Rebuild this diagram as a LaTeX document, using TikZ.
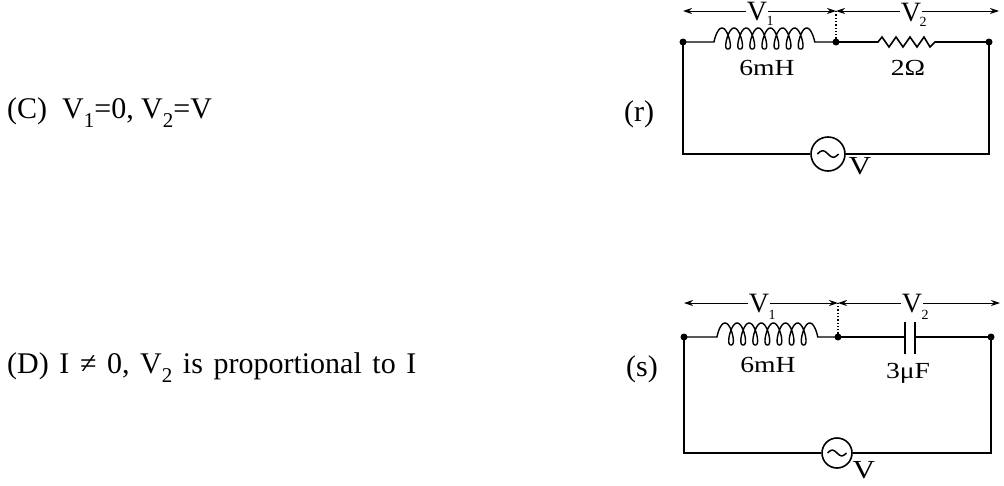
\documentclass[tikz,border=0pt]{standalone}
\usepackage{fontspec}
\setmainfont{Liberation Serif}
\usetikzlibrary{arrows.meta}
\newcommand\mysub[1]{\raisebox{-0.33em}{\fontsize{21}{21}\selectfont #1}}
\begin{document}
\begin{tikzpicture}[x=1pt,y=-1pt,
 wire/.style={line width=1.6pt},
 coil/.style={line width=1.4pt},
 dot/.style={circle,fill=black,inner sep=0pt,minimum size=7pt},
 dimline/.style={line width=1pt,{Stealth[length=9pt,width=6pt]}-{Stealth[length=9pt,width=6pt]}},
 src/.style={circle,draw,line width=1.6pt,inner sep=0pt},
 lbl/.style={font=\fontsize{23}{23}\selectfont,inner sep=0pt,transform shape,xscale=1.2},
 vlbl/.style={fill=white,inner sep=1pt,font=\fontsize{28}{28}\selectfont},
 slbl/.style={inner sep=0pt,font=\fontsize{14}{14}\selectfont},
 txt/.style={anchor=base west,inner sep=0pt,font=\fontsize{30}{30}\selectfont}]
\useasboundingbox (0,0) rectangle (1004,485);
\fill[white] (0,0) rectangle (1004,485);
% ---- texts
\node[txt] (tc) at (7,118) {(C)\ \ V\mysub{1}=0, V\mysub{2}=V};
\node[txt] (tr) at (624,121) {(r)};
\node[txt] (td) at (7,373) {\spaceskip=10.6pt\relax (D) I ≠ 0, V\mysub{2} is proportional to I};
\node[txt] (ts) at (626,376) {(s)};
% ---- circuit r
\node[dot] (a1) at (683,42) {};
\node[dot] (b1) at (836,42) {};
\node[dot] (c1) at (989,42) {};
\coordinate (d1) at (683,154);
\coordinate (e1) at (989,154);
\node[src,minimum size=34pt] (s1) at (828,154) {};
\draw[wire] (a1.center) -- (d1) -- (s1.west);
\draw[wire] (s1.east) -- (e1) -- (c1.center);
\draw[line width=1.5pt] plot[domain=-180:180,samples=40,smooth] ({828+\x/17},{154+3.2*sin(\x)});
\draw[coil] (a1.center) -- plot[domain=-90:2610,samples=300,smooth] ({722+12.1*(\x/360)+5*sin(\x)},{42-10.5*cos(\x)-3.5*cos(\x)*cos(\x)}) -- (b1.center);
\draw[wire] (b1.center) -- (878,42) -- (882,37) -- (889,47) -- (896,37) -- (903,47) -- (910,37) -- (917,47) -- (924,37) -- (930,47) -- (935,42) -- (c1.center);
\coordinate (p1) at (683,11);
\coordinate (q1) at (836,11);
\coordinate (r1) at (999,11);
\draw[dotted,line width=1.3pt] (b1.center) -- (q1);
\draw[dimline] (p1) -- (q1);
\draw[dimline] (q1) -- (r1);
\node[vlbl] (v1) at (757,12) {V};
\node[slbl] (n1) at (770,21) {1};
\node[vlbl] (v2) at (911,13) {V};
\node[slbl] (n2) at (923,22) {2};
\node[lbl] (l1) at (767,68) {6mH};
\node[lbl] (l2) at (908,68) {2Ω};
\node[lbl,xscale=1] (vs1) at (860,166) {\fontsize{26}{26}\selectfont V};
% ---- circuit s
\node[dot] (a2) at (684,337) {};
\node[dot] (b2) at (838,337) {};
\node[dot] (c2) at (991,337) {};
\coordinate (d2) at (684,453);
\coordinate (e2) at (991,453);
\node[src,minimum size=30pt] (s2) at (837,453) {};
\draw[wire] (a2.center) -- (d2) -- (s2.west);
\draw[wire] (s2.east) -- (e2) -- (c2.center);
\draw[line width=1.5pt] plot[domain=-180:180,samples=40,smooth] ({837+\x/19},{453+2.8*sin(\x)});
\draw[coil] (a2.center) -- plot[domain=-90:2610,samples=300,smooth] ({725+12.1*(\x/360)+5*sin(\x)},{337-11*cos(\x)-3*cos(\x)*cos(\x)}) -- (b2.center);
\coordinate (k1) at (905,337);
\coordinate (k2) at (915,337);
\draw[wire] (b2.center) -- (k1);
\draw[wire] (k2) -- (c2.center);
\draw[wire] (905,322) -- (905,354);
\draw[wire] (915,322) -- (915,354);
\coordinate (p2) at (684,303);
\coordinate (q2) at (838,303);
\coordinate (r2) at (1000,303);
\draw[dotted,line width=1.3pt] (b2.center) -- (q2);
\draw[dimline] (p2) -- (q2);
\draw[dimline] (q2) -- (r2);
\node[vlbl] (v3) at (759,304) {V};
\node[slbl] (n3) at (772,315) {1};
\node[vlbl] (v4) at (912,304) {V};
\node[slbl] (n4) at (925,315) {2};
\node[lbl] (l3) at (768,365) {6mH};
\node[lbl] (l4) at (908,373) {3μF};
\node[lbl,xscale=1] (vs2) at (864,470) {\fontsize{26}{26}\selectfont V};
\end{tikzpicture}
\end{document}
